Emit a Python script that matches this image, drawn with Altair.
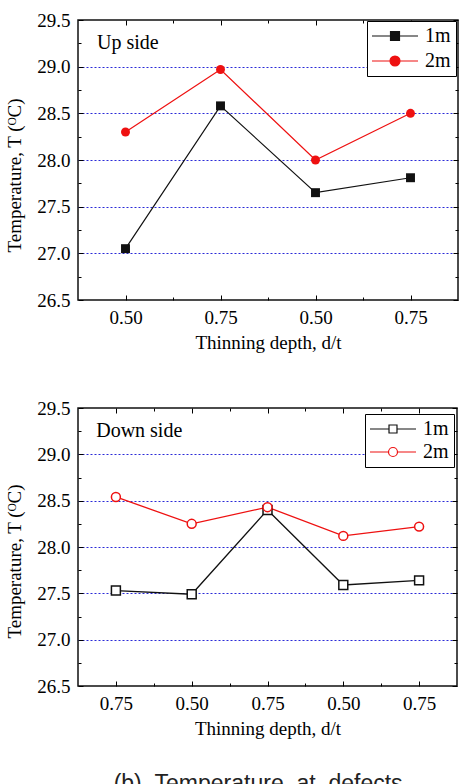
import json

import altair as alt
import pandas as pd

# ---- data -------------------------------------------------------------
SERIES = ["1m", "2m"]
SERIES_COLORS = ["#111111", "#ee1111"]

UP_DEPTHS = ["0.50", "0.75", "0.50", "0.75"]
UP_1M = [27.05, 28.58, 27.65, 27.81]
UP_2M = [28.30, 28.97, 28.00, 28.50]

DOWN_DEPTHS = ["0.75", "0.50", "0.75", "0.50", "0.75"]
DOWN_1M = [27.53, 27.49, 28.40, 27.59, 27.64]
DOWN_2M = [28.54, 28.25, 28.43, 28.12, 28.22]

Y_DOMAIN = [26.5, 29.5]
Y_TICKS = [26.5, 27.0, 27.5, 28.0, 28.5, 29.0, 29.5]
Y_MINOR = [26.75, 27.25, 27.75, 28.25, 28.75, 29.25]

CAPTION = "(b)\u00a0\u00a0Temperature\u00a0\u00a0at\u00a0\u00a0defects"
X_TITLE = "Thinning depth, d/t"
Y_TITLE = "Temperature, T (\u1d3cC)"

SERIF = "Liberation Serif"
GRID_BLUE = "#2a2ad8"

# legend glyph geometry (symbol units; one unit = sqrt(KEY_SIZE) / 2 px)
KEY_SIZE = 196
KEY_HALF_LINE = 3.29


def line_square(h, L=KEY_HALF_LINE):
    return f"M{-L},0H{-h}M{h},0H{L}M{-h},{-h}H{h}V{h}H{-h}Z"


def line_circle(r, L=KEY_HALF_LINE):
    return (f"M{-L},0H{-r}M{r},0H{L}M{r},0A{r},{r} 0 1,1 {-r},0"
            f"A{r},{r} 0 1,1 {r},0Z")


def tick_axis(orient, values, size):
    # tick-only axis pushed inside the frame so the ticks point inward
    return alt.Axis(orient=orient, values=values, tickSize=size, offset=-size,
                    labels=False, domain=False, grid=False, title=None,
                    tickColor="black", tickWidth=1)


def panel(depths, s1, s2, tag, filled, width, height, title_y,
          legend_x, legend_y, row_pad, glyphs, stroke_w, tag_x):
    n = len(depths)
    positions = list(range(1, n + 1))
    minors = [p + 0.5 for p in positions[:-1]]
    df = pd.DataFrame({
        "pos": positions * 2,
        "temp": s1 + s2,
        "series": [SERIES[0]] * n + [SERIES[1]] * n,
    })
    xs = alt.Scale(domain=[0.5, n + 0.5], nice=False, zero=False)
    ys = alt.Scale(domain=Y_DOMAIN, nice=False, zero=False)
    color = alt.Color("series:N", scale=alt.Scale(domain=SERIES, range=SERIES_COLORS),
                      legend=None)

    label_expr = json.dumps(depths).replace('"', "'") + "[datum.value - 1]"
    x_main = alt.Axis(values=positions, labelExpr=label_expr, ticks=False, tickSize=0,
                      domain=False, grid=False, title=X_TITLE,
                      labelFont=SERIF, labelFontSize=19, labelColor="black",
                      labelPadding=8, titleFont=SERIF, titleFontSize=19,
                      titleFontWeight="normal", titleColor="black", titlePadding=6)
    y_main = alt.Axis(values=Y_TICKS, format=".1f", ticks=False, tickSize=0,
                      domain=False, grid=True,
                      gridColor={"condition": {"test": "datum.value > 26.6 && datum.value < 29.4",
                                               "value": GRID_BLUE},
                                 "value": "transparent"},
                      gridDash=[2, 2], gridWidth=1.2,
                      labelFont=SERIF, labelFontSize=19, labelColor="black",
                      labelPadding=8, title=Y_TITLE, titleFont=SERIF,
                      titleFontSize=19, titleFontWeight="normal", titleColor="black",
                      titlePadding=12, titleY=title_y)

    base = alt.Chart(df)
    lines = base.mark_line(strokeWidth=stroke_w).encode(
        x=alt.X("pos:Q", scale=xs, axis=x_main),
        y=alt.Y("temp:Q", scale=ys, axis=y_main),
        color=color,
    )

    def points(series, shape):
        props = dict(shape=shape, size=80, opacity=1, filled=filled,
                     strokeWidth=1.5)
        if not filled:
            props["fill"] = "white"
        return base.transform_filter(alt.datum.series == series).mark_point(**props).encode(
            x=alt.X("pos:Q", scale=xs, axis=None),
            y=alt.Y("temp:Q", scale=ys, axis=None),
            color=color,
        )

    def ticks(orient_x, orient_y, xvals, yvals, size):
        return base.mark_point(opacity=0).encode(
            x=alt.X("pos:Q", scale=xs, axis=tick_axis(orient_x, xvals, size)),
            y=alt.Y("temp:Q", scale=ys, axis=tick_axis(orient_y, yvals, size)),
        )

    legend = alt.Legend(title=None, orient="none", legendX=legend_x, legendY=legend_y,
                        padding=5, strokeColor="black", fillColor="white",
                        symbolSize=KEY_SIZE, symbolStrokeWidth=1.2, symbolOpacity=1,
                        symbolOffset=13, labelOffset=20,
                        labelFont=SERIF, labelFontSize=20, labelColor="black",
                        rowPadding=row_pad)
    key_fill = SERIES_COLORS if filled else ["white", "white"]
    # tiny marks that only carry the legend (hidden under the real points)
    key = base.mark_point(size=1).encode(
        x=alt.X("pos:Q", scale=xs, axis=None),
        y=alt.Y("temp:Q", scale=ys, axis=None),
        stroke=alt.Stroke("series:N", scale=alt.Scale(domain=SERIES, range=SERIES_COLORS),
                          legend=legend),
        fill=alt.Fill("series:N", scale=alt.Scale(domain=SERIES, range=key_fill),
                      legend=legend),
        shape=alt.Shape("series:N", scale=alt.Scale(domain=SERIES, range=glyphs),
                        legend=legend),
    )

    label = alt.Chart(pd.DataFrame({"x": [tag_x], "y": [29.25], "t": [tag]})).mark_text(
        align="left", baseline="middle", font=SERIF, fontSize=20, color="black"
    ).encode(
        x=alt.X("x:Q", scale=xs, axis=None),
        y=alt.Y("y:Q", scale=ys, axis=None),
        text="t:N",
    )

    return alt.layer(
        key,
        lines,
        points(SERIES[0], "square"),
        points(SERIES[1], "circle"),
        ticks("bottom", "left", positions, Y_TICKS, 5),
        ticks("bottom", "left", minors, Y_MINOR, 3),
        ticks("top", "right", positions, Y_TICKS, 5),
        ticks("top", "right", minors, Y_MINOR, 3),
        label,
    ).resolve_axis(x="independent", y="independent").properties(width=width, height=height)


up = panel(UP_DEPTHS, UP_1M, UP_2M, "Up side", True, 380, 280, 155,
           289, 1, 5, [line_square(0.64), line_circle(0.71)], 1.2, 0.7)
down = panel(DOWN_DEPTHS, DOWN_1M, DOWN_2M, "Down side", False, 379, 278, 153,
             287, 6, 3, [line_square(0.57), line_circle(0.64)], 1.3, 0.74)

chart = alt.vconcat(up, down, spacing=45).resolve_scale(
    stroke="independent", fill="independent", shape="independent", color="independent"
).properties(
    title=alt.TitleParams(CAPTION, orient="bottom", anchor="middle",
                          font="Liberation Sans", fontSize=23, fontWeight="normal",
                          color="#222222", offset=34, dx=26),
    padding={"left": 5, "top": 10, "right": 0, "bottom": 5},
).configure_view(stroke="#111111", strokeWidth=1.5)

chart.save("out.html", embed_options={"renderer": "svg", "actions": False})
